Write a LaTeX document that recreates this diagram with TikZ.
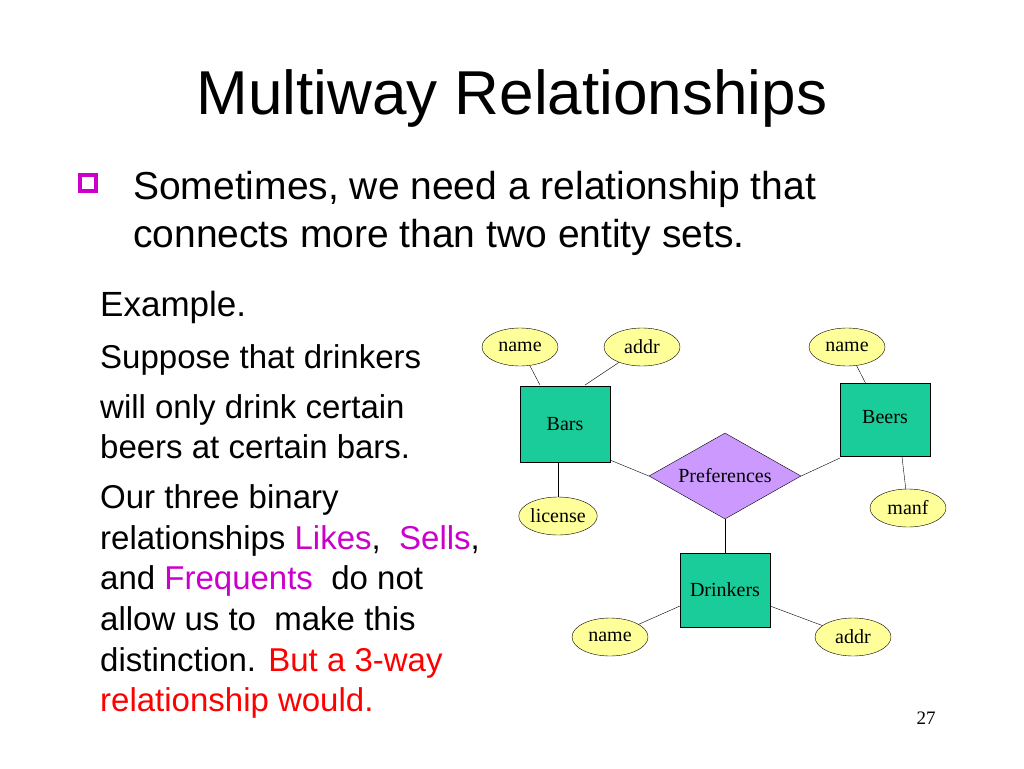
\documentclass[tikz,border=0pt]{standalone}
\usepackage{fontspec}
\setmainfont{Liberation Sans}
\newfontfamily\erfont{Liberation Serif}
\usetikzlibrary{shapes.geometric}
\definecolor{entfill}{HTML}{1ACC99}
\definecolor{relfill}{HTML}{CC99FF}
\definecolor{attfill}{HTML}{FFFF99}
\definecolor{hilite}{HTML}{CC00CC}
\tikzset{
  entity/.style={draw, fill=entfill, minimum width=90pt, minimum height=76pt, font=\erfont\fontsize{20}{22}\selectfont},
  relation/.style={draw, diamond, aspect=1.75, fill=relfill, minimum width=152pt, minimum height=86pt, inner sep=0pt, font=\erfont\fontsize{20}{22}\selectfont},
  attr/.style={draw, ellipse, fill=attfill, minimum width=76pt, minimum height=38pt, inner sep=0pt, font=\erfont\fontsize{20}{22}\selectfont},
  txt/.style={anchor=base west, inner sep=0pt, font=\fontsize{33}{36}\selectfont}
}
\begin{document}
\begin{tikzpicture}[x=1pt,y=-1pt]
  \useasboundingbox (0,0) rectangle (1024,768);
  \node (title) at (512,98) {\fontsize{62}{68}\selectfont Multiway Relationships};
  \node[draw=hilite, line width=4pt, minimum size=16pt, inner sep=0pt] (bullet) at (88,183) {};
  \node[anchor=base west, inner sep=0pt, font=\fontsize{39}{42}\selectfont] (l1) at (133,199) {Sometimes, we need a relationship that};
  \node[anchor=base west, inner sep=0pt, font=\fontsize{39}{42}\selectfont] (l2) at (133,247) {connects more than two entity sets.};
  \node[txt, font=\fontsize{35}{38}\selectfont] (ex) at (100,316) {Example.};
  \node[txt] (t1) at (100,368) {Suppose that drinkers};
  \node[txt] (t2) at (100,418) {will only drink certain};
  \node[txt] (t3) at (100,458) {beers at certain bars.};
  \node[txt] (t4) at (100,508) {Our three binary};
  \node[txt] (t5) at (100,549) {relationships \textcolor{hilite}{Likes}, \ \textcolor{hilite}{Sells},};
  \node[txt] (t6) at (100,589) {and \textcolor{hilite}{Frequents} \ do not};
  \node[txt] (t7) at (100,630) {allow us to \ make this};
  \node[txt] (t8) at (100,671) {distinction. \textcolor{red}{But a 3-way}};
  \node[txt] (t9) at (100,711) {\textcolor{red}{relationship would.}};
  % entities and relationship
  \node[entity] (bars) at (565,424) {Bars};
  \node[entity, minimum height=73pt] (beers) at (885,420) {\raisebox{6pt}{Beers}};
  \node[entity, minimum height=74pt] (drinkers) at (725,590) {Drinkers};
  \node[relation] (pref) at (725,476) {Preferences};
  % attributes
  \node[attr] (barname) at (520,347) {name};
  \node[attr] (baraddr) at (642,347) {addr};
  \node[attr] (beername) at (847,347) {name};
  \node[attr] (license) at (558,516) {license};
  \node[attr] (manf) at (908,508) {manf};
  \node[attr] (drname) at (610,637) {name};
  \node[attr] (draddr) at (853,637) {addr};
  \draw (barname) -- (540,385);
  \draw (baraddr) -- (585,385);
  \draw (beername) -- (866,384);
  \draw (license) -- (license |- bars.south);
  \draw (manf) -- (902,457);
  \draw (610,460) -- (pref.west);
  \draw (840,458) -- (pref.east);
  \draw (pref.south) -- (drinkers.north);
  \draw (drname) -- (680,606);
  \draw (draddr) -- (770,606);
  \node[font=\erfont\fontsize{19}{20}\selectfont] (page) at (926,718) {27};
\end{tikzpicture}
\end{document}
